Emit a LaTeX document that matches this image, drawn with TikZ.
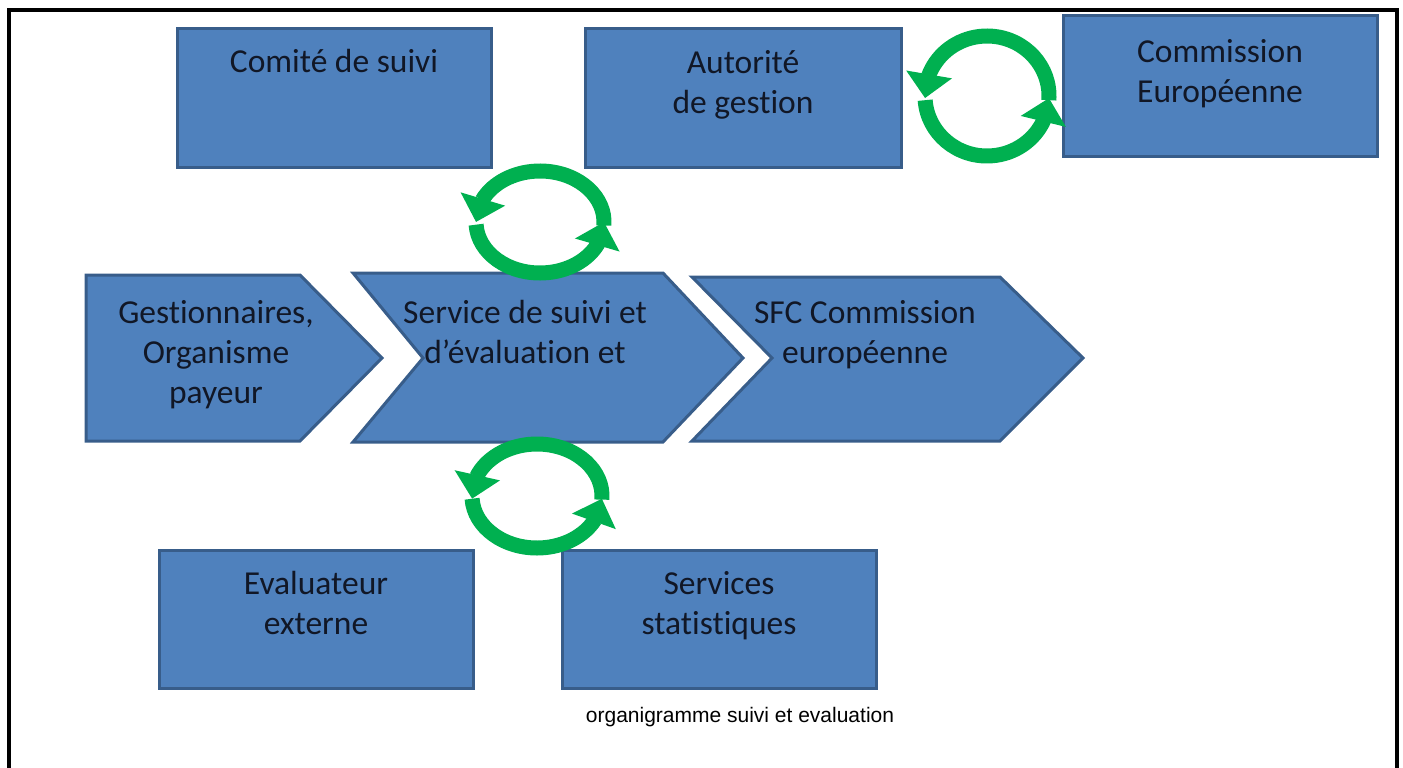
\documentclass[tikz,border=0pt]{standalone}
\usepackage{fontspec}
\setmainfont{Carlito}[Ligatures = NoCommon]
\newfontfamily\capfont{Liberation Sans}
\usetikzlibrary{arrows.meta, bending, positioning}
\definecolor{boxblue}{HTML}{4F81BD}
\definecolor{boxedge}{HTML}{385D8A}
\definecolor{cycgreen}{HTML}{00B050}
\definecolor{inkblue}{HTML}{111726}

\begin{document}
\begin{tikzpicture} [x = 1pt, y = -1pt,
box/.style = {draw = boxedge, fill = boxblue, line width = 3pt, minimum width = 314pt, minimum height = 138pt, inner sep = 0pt},
chevron/.style = {draw = boxedge, fill = boxblue, line width = 3pt, line join = miter},
lbl/.style = {align = center, inner sep = 0pt, anchor = north, text = inkblue, font = \fontsize{33.5}{40}\selectfont},
cycle arrow/.style = {draw = cycgreen, line width = 15pt, -{Triangle[width = 45pt, length = 24pt]}}]

\useasboundingbox (0,0) rectangle (1403,768);
\draw [line width = 4pt] (9,768) -- (9,10) -- (1397,10) -- (1397,768);

% top row
\node (comite) [box] at (334,98) {};
\node (autorite) [box, minimum width = 316pt] at (743,98) {};
\node (ce) [box, minimum height = 141pt] at (1220,86) {};
\node (comite lbl) [lbl, below = 22pt of comite.north] {Comité de suivi};
\node (autorite lbl) [lbl, below = 23pt of autorite.north] {Autorité\\de gestion};
\node (ce lbl) [lbl, below = 25pt of ce.north] {Commission\\Européenne};

% chevrons
\draw [chevron] (86,275) -- (300,275) -- (382,358) -- (300,441) -- (86,441) -- cycle;
\draw [chevron] (353,273) -- (663,273) -- (743,358) -- (663,442) -- (353,442) -- (423,358) -- cycle;
\draw [chevron] (692,277) -- (1000,277) -- (1083,358) -- (1000,441) -- (692,441) -- (772,358) -- cycle;
\node (gest) [lbl] at (216,300) {Gestionnaires,\\Organisme\\payeur};
\node (sse) [lbl] at (525,300) {Service de suivi et\\d’évaluation et};
\node (sfc) [lbl] at (865,300) {SFC Commission\\européenne};

% bottom row
\node (evalext) [box] at (316,619) {};
\node (stats) [box] at (719,619) {};
\node (evalext lbl) [lbl, below = 23pt of evalext.north] {Evaluateur\\externe};
\node (stats lbl) [lbl, below = 23pt of stats.north] {Services\\statistiques};

% cycles
\coordinate (ring1) at (987,96);
\coordinate (ring2) at (540,222);
\coordinate (ring3) at (537,496);
\draw [cycle arrow] ([shift = {(4:62 and 60)}]ring1) arc [start angle = 4, end angle = -182, x radius = 62, y radius = 60];
\draw [cycle arrow] ([shift = {(176:62 and 60)}]ring1) arc [start angle = 176, end angle = 2, x radius = 62, y radius = 60];
\draw [cycle arrow] ([shift = {(4:64 and 51)}]ring2) arc [start angle = 4, end angle = -180, x radius = 64, y radius = 51];
\draw [cycle arrow] ([shift = {(177:64 and 51)}]ring2) arc [start angle = 177, end angle = 0, x radius = 64, y radius = 51];
\draw [cycle arrow] ([shift = {(4:65 and 52)}]ring3) arc [start angle = 4, end angle = -183, x radius = 65, y radius = 52];
\draw [cycle arrow] ([shift = {(177:65 and 52)}]ring3) arc [start angle = 177, end angle = 3, x radius = 65, y radius = 52];

\node (caption) [font = \capfont\fontsize{21}{25}\selectfont] at (740,717) {organigramme suivi et evaluation};
\end{tikzpicture}
\end{document}
